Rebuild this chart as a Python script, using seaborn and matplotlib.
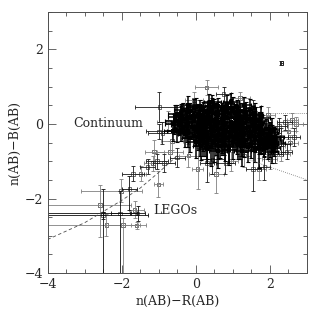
import numpy as np
import pandas as pd
import matplotlib
matplotlib.use("Agg")
import matplotlib.pyplot as plt
from matplotlib.ticker import MultipleLocator
import seaborn as sns

# nuvem densa (contínuo)
core_x = [-0.2, 0.1, 0.35, 0.6, 0.85, 1.1, 1.3,
          -0.35, -0.05, 0.2, 0.45, 0.7, 0.95, 1.2, 1.45,
          -0.5, -0.25, 0.05, 0.3, 0.55, 0.8, 1.05, 1.3, 1.55,
          -0.4, -0.15, 0.1, 0.35, 0.6, 0.85, 1.1, 1.35, 1.6,
          -0.55, -0.3, -0.05, 0.2, 0.45, 0.7, 0.95, 1.2, 1.45, 1.7,
          -0.45, -0.2, 0.05, 0.3, 0.55, 0.8, 1.05, 1.3, 1.55, 1.8,
          -0.35, -0.1, 0.15, 0.4, 0.65, 0.9, 1.15, 1.4, 1.65, 1.9,
          -0.5, -0.25, 0.0, 0.25, 0.5, 0.75, 1.0, 1.25, 1.5, 1.75, 2.0,
          -0.3, -0.05, 0.2, 0.45, 0.7, 0.95, 1.2, 1.45, 1.7, 1.95,
          -0.15, 0.1, 0.35, 0.6, 0.85, 1.1, 1.35, 1.6, 1.85, 2.1,
          0.0, 0.25, 0.5, 0.75, 1.0, 1.25, 1.5, 1.75, 2.0,
          0.15, 0.4, 0.65, 0.9, 1.15, 1.4, 1.7, 1.95,
          0.3, 0.6, 0.9, 1.25, 1.6, 2.05]
core_y = [0.52, 0.47, 0.55, 0.49, 0.53, 0.46, 0.51,
          0.38, 0.43, 0.37, 0.42, 0.39, 0.44, 0.36, 0.41,
          0.28, 0.33, 0.27, 0.31, 0.26, 0.32, 0.29, 0.34, 0.27,
          0.22, 0.17, 0.21, 0.18, 0.23, 0.16, 0.20, 0.17, 0.22,
          0.08, 0.12, 0.07, 0.11, 0.09, 0.13, 0.06, 0.10, 0.12, 0.08,
          -0.02, 0.03, -0.03, 0.01, -0.01, 0.02, -0.04, 0.03, -0.02, 0.01,
          -0.12, -0.08, -0.11, -0.07, -0.13, -0.09, -0.12, -0.08, -0.10, -0.14,
          -0.18, -0.22, -0.17, -0.21, -0.19, -0.23, -0.18, -0.20, -0.22, -0.17, -0.21,
          -0.28, -0.32, -0.27, -0.33, -0.29, -0.31, -0.27, -0.32, -0.30, -0.34,
          -0.38, -0.42, -0.39, -0.43, -0.37, -0.41, -0.44, -0.38, -0.42, -0.40,
          -0.48, -0.52, -0.47, -0.53, -0.49, -0.51, -0.54, -0.48, -0.52,
          -0.58, -0.63, -0.59, -0.62, -0.57, -0.61, -0.64, -0.60,
          -0.68, -0.73, -0.70, -0.72, -0.69, -0.74]
core_xerr = [0.20, 0.25, 0.15, 0.22, 0.18, 0.26, 0.20,
             0.24, 0.18, 0.21, 0.15, 0.27, 0.19, 0.23, 0.17,
             0.26, 0.20, 0.16, 0.24, 0.19, 0.22, 0.15, 0.21, 0.25,
             0.18, 0.23, 0.20, 0.26, 0.17, 0.21, 0.24, 0.19, 0.22,
             0.28, 0.19, 0.22, 0.16, 0.25, 0.20, 0.23, 0.18, 0.21, 0.24,
             0.21, 0.26, 0.18, 0.22, 0.19, 0.25, 0.16, 0.23, 0.20, 0.22,
             0.24, 0.17, 0.21, 0.25, 0.18, 0.22, 0.20, 0.26, 0.19, 0.21,
             0.27, 0.20, 0.23, 0.18, 0.24, 0.16, 0.22, 0.19, 0.25, 0.21, 0.18,
             0.19, 0.24, 0.17, 0.22, 0.20, 0.26, 0.18, 0.21, 0.23, 0.20,
             0.22, 0.18, 0.25, 0.20, 0.17, 0.23, 0.21, 0.19, 0.24, 0.18,
             0.20, 0.24, 0.18, 0.22, 0.26, 0.19, 0.21, 0.23, 0.17,
             0.23, 0.19, 0.25, 0.21, 0.18, 0.22, 0.20, 0.24,
             0.21, 0.25, 0.19, 0.23, 0.20, 0.18]
core_yerr = [0.22, 0.18, 0.26, 0.20, 0.24, 0.17, 0.21,
             0.19, 0.25, 0.21, 0.28, 0.18, 0.23, 0.20, 0.26,
             0.24, 0.19, 0.27, 0.21, 0.30, 0.18, 0.25, 0.22, 0.20,
             0.26, 0.21, 0.29, 0.19, 0.24, 0.32, 0.20, 0.27, 0.23,
             0.21, 0.30, 0.24, 0.35, 0.20, 0.27, 0.33, 0.22, 0.28, 0.25,
             0.28, 0.22, 0.34, 0.25, 0.38, 0.21, 0.30, 0.26, 0.32, 0.24,
             0.25, 0.33, 0.27, 0.40, 0.24, 0.36, 0.29, 0.31, 0.26, 0.28,
             0.30, 0.26, 0.42, 0.29, 0.35, 0.45, 0.27, 0.38, 0.31, 0.29, 0.26,
             0.33, 0.28, 0.46, 0.31, 0.50, 0.29, 0.36, 0.30, 0.34, 0.27,
             0.36, 0.44, 0.30, 0.52, 0.33, 0.40, 0.31, 0.37, 0.29, 0.32,
             0.42, 0.35, 0.55, 0.30, 0.45, 0.34, 0.38, 0.31, 0.36,
             0.40, 0.50, 0.33, 0.47, 0.36, 0.42, 0.55, 0.34,
             0.38, 0.45, 0.35, 0.40, 0.33, 0.30]

# segunda camada da nuvem, intercalada (inclui a cauda à direita)
core2_x = [0.0, 0.5, 1.0,
           -0.15, 0.35, 0.85, 1.35,
           -0.4, 0.1, 0.6, 1.1, 1.6,
           -0.25, 0.25, 0.75, 1.25, 1.75,
           -0.4, 0.1, 0.6, 1.1, 1.6,
           -0.25, 0.25, 0.75, 1.25, 1.75,
           -0.4, 0.1, 0.6, 1.1, 1.6, 2.05,
           -0.2, 0.3, 0.8, 1.3, 1.8,
           0.05, 0.55, 1.05, 1.55, 2.05,
           0.2, 0.7, 1.2, 1.7, 2.15,
           0.3, 0.8, 1.3, 1.85,
           1.9, 2.05, 2.15, 1.85, 2.0, 1.75, 2.1, 2.2,
           -0.6, -0.62, -0.55, 0.45, 0.95]
core2_y = [0.45, 0.48, 0.44,
           0.35, 0.33, 0.36, 0.32,
           0.25, 0.24, 0.26, 0.23, 0.25,
           0.15, 0.14, 0.16, 0.13, 0.15,
           0.05, 0.04, 0.06, 0.03, 0.05,
           -0.05, -0.06, -0.04, -0.07, -0.05,
           -0.15, -0.14, -0.16, -0.13, -0.15, -0.17,
           -0.25, -0.26, -0.24, -0.27, -0.25,
           -0.35, -0.34, -0.36, -0.33, -0.35,
           -0.45, -0.46, -0.44, -0.47, -0.45,
           -0.55, -0.56, -0.54, -0.57,
           -0.45, -0.55, -0.35, -0.65, -0.25, -0.55, -0.65, -0.5,
           0.0, -0.2, 0.2, 0.58, 0.6]
core2_xerr = [0.22, 0.26, 0.20,
              0.25, 0.19, 0.23, 0.27,
              0.21, 0.24, 0.18, 0.26, 0.22,
              0.23, 0.20, 0.25, 0.19, 0.24,
              0.26, 0.21, 0.23, 0.18, 0.25,
              0.20, 0.24, 0.22, 0.26, 0.19,
              0.23, 0.18, 0.25, 0.21, 0.24, 0.20,
              0.22, 0.26, 0.19, 0.23, 0.21,
              0.25, 0.20, 0.24, 0.18, 0.22,
              0.21, 0.25, 0.19, 0.23, 0.20,
              0.24, 0.20, 0.22, 0.19,
              0.20, 0.18, 0.22, 0.19, 0.21, 0.23, 0.18, 0.20,
              0.22, 0.25, 0.20, 0.24, 0.21]
core2_yerr = [0.25, 0.20, 0.28,
              0.22, 0.30, 0.24, 0.27,
              0.28, 0.23, 0.33, 0.26, 0.30,
              0.31, 0.25, 0.36, 0.28, 0.33,
              0.27, 0.35, 0.30, 0.38, 0.29,
              0.34, 0.28, 0.40, 0.31, 0.36,
              0.30, 0.42, 0.33, 0.37, 0.29, 0.32,
              0.38, 0.31, 0.45, 0.34, 0.30,
              0.35, 0.48, 0.32, 0.40, 0.33,
              0.42, 0.36, 0.50, 0.34, 0.31,
              0.38, 0.44, 0.35, 0.32,
              0.22, 0.20, 0.24, 0.21, 0.23, 0.25, 0.20, 0.22,
              0.28, 0.25, 0.30, 0.20, 0.22]

# pontos esparsos em torno da nuvem
out_x = [0.29, 0.75, 1.2, 1.55, -0.05, -0.98, -0.75, -0.9, -0.65, -1.0,
         -0.2, -0.5, -0.7, -0.85, -1.12, -1.05, 0.05, 0.3, 0.55, 0.8,
         0.95, 0.45, 1.3, 1.55, 1.7, 1.85, 2.0, 2.15, 2.3, 2.45,
         2.55, 2.3, 2.5, 2.65, 2.7, 2.4, 2.6, 2.25, 2.2, 2.35,
         1.95, 2.31, -1.01, -1.7, -1.49, -1.3, -1.15]
out_y = [0.98, 0.8, 0.7, 0.45, 0.65, 0.45, 0.05, -0.25, -0.45, -0.2,
         -0.85, -0.9, -0.75, -1.05, -0.74, -1.0, -1.2, -1.05, -1.35, -1.05,
         -1.0, -0.95, -0.85, -1.2, -1.2, -1.15, -0.95, -0.8, -0.8, -0.75,
         -0.5, -0.35, -0.2, -0.35, 0.0, 0.05, 0.1, -0.05, -0.6, -0.55,
         0.25, 1.63, -1.62, -1.34, -1.34, -1.15, -1.05]
out_xerr = [0.3, 0.2, 0.25, 0.2, 0.25, 0.65, 0.3, 0.4, 0.3, 0.35,
            0.25, 0.2, 0.35, 0.3, 0.25, 0.3, 0.15, 0.2, 0.2, 0.25,
            0.2, 0.3, 0.2, 0.2, 0.2, 0.15, 0.2, 0.2, 0.25, 0.15,
            0.2, 0.2, 0.2, 0.15, 0.2, 0.2, 0.15, 0.2, 0.2, 0.2,
            0.2, 0.05, 0.12, 0.3, 0.15, 0.2, 0.25]
out_yerr = [0.2, 0.2, 0.15, 0.2, 0.2, 0.4, 0.3, 0.3, 0.25, 0.2,
            0.3, 0.25, 0.3, 0.25, 0.3, 0.2, 0.55, 0.5, 0.5, 0.3,
            0.25, 0.4, 0.3, 0.6, 0.3, 0.35, 0.25, 0.25, 0.2, 0.2,
            0.2, 0.25, 0.2, 0.25, 0.2, 0.2, 0.2, 0.2, 0.25, 0.2,
            0.2, 0.06, 0.35, 0.2, 0.2, 0.2, 0.2]

# LEGOs (erros assimétricos)
lego_x = [-2.59, -2.5, -2.41, -2.5, -1.97, -2.05, -2.01, -1.79, -1.65, -1.57, -1.6]
lego_y = [-2.18, -2.4, -2.71, -2.45, -2.71, -2.4, -1.79, -1.75, -2.31, -2.4, -2.72]
lego_xlo = [1.5, 1.6, 1.7, 1.6, 0.4, 0.25, 1.08, 0.2, 0.15, 0.2, 0.15]
lego_xhi = [0.85, 0.9, 0.9, 1.2, 0.4, 0.3, 0.57, 0.2, 0.25, 0.2, 0.26]
lego_ylo = [0.85, 1.7, 0.3, 0.1, 1.4, 1.7, 0.3, 0.55, 0.2, 0.2, 0.1]
lego_yhi = [0.55, 0.65, 0.3, 0.1, 0.2, 0.6, 0.3, 0.35, 0.25, 0.2, 0.1]

# trajetórias de modelo
lego_track_x = [-4.0, -3.0, -2.0, -1.5, -1.0, -0.5]
lego_track_y = [-3.1, -2.65, -2.05, -1.72, -1.3, -0.85]
cont_track_x = [1.4, 3.0]
cont_track_y = [-0.95, -1.5]
flat_track_x = [1.95, 3.0]
flat_track_y = [0.3, 0.3]

sns.set_style("ticks")
plt.rcParams["font.family"] = ["DejaVu Serif"]

fig = plt.figure(figsize=(3.11, 3.11), dpi=100)
ax = fig.add_axes([0.153, 0.122, 0.834, 0.839])

eb = dict(fmt="none", capsize=1.6, elinewidth=0.6, capthick=0.6)
ax.errorbar(out_x[::2], out_y[::2], xerr=out_xerr[::2], yerr=out_yerr[::2], ecolor="0.5", **eb)
ax.errorbar(out_x[1::2], out_y[1::2], xerr=out_xerr[1::2], yerr=out_yerr[1::2], ecolor="0.1", **eb)
lx = np.array(lego_x)
ly = np.array(lego_y)
ax.errorbar(lx[::2], ly[::2], xerr=[lego_xlo[::2], lego_xhi[::2]],
            yerr=[lego_ylo[::2], lego_yhi[::2]], ecolor="0.5", **eb)
ax.errorbar(lx[1::2], ly[1::2], xerr=[lego_xlo[1::2], lego_xhi[1::2]],
            yerr=[lego_ylo[1::2], lego_yhi[1::2]], ecolor="0.05", **eb)

ebc = dict(fmt="none", capsize=1.6, elinewidth=1.1, capthick=0.8, ecolor="0.0")
ax.errorbar(core_x, core_y, xerr=core_xerr, yerr=core_yerr, **ebc)
ax.errorbar(core2_x, core2_y, xerr=core2_xerr, yerr=core2_yerr, **ebc)

pts = pd.DataFrame({"x": out_x + lego_x, "y": out_y + lego_y})
sns.scatterplot(data=pts, x="x", y="y", marker="s", s=7, facecolor="none",
                edgecolor="0.35", linewidth=0.6, ax=ax)
core_pts = pd.DataFrame({"x": core_x + core2_x, "y": core_y + core2_y})
sns.scatterplot(data=core_pts, x="x", y="y", marker="s", s=12, color="0.0",
                linewidth=0, ax=ax)

sns.lineplot(x=lego_track_x, y=lego_track_y, sort=False, color="0.3", lw=0.6,
             linestyle=(0, (4, 3)), ax=ax)
sns.lineplot(x=cont_track_x, y=cont_track_y, sort=False, color="0.45", lw=0.6,
             linestyle=(0, (1, 1.5)), ax=ax)
sns.lineplot(x=flat_track_x, y=flat_track_y, sort=False, color="0.45", lw=0.6,
             linestyle=(0, (1, 1.5)), ax=ax)

ax.text(-3.32, 0.0, "Continuum", fontsize=9, va="center", ha="left")
ax.text(-1.16, -2.33, "LEGOs", fontsize=9, va="center", ha="left")

ax.set_xlim(-4, 3)
ax.set_ylim(-4, 3)
ax.xaxis.set_major_locator(MultipleLocator(2))
ax.yaxis.set_major_locator(MultipleLocator(2))
ax.xaxis.set_minor_locator(MultipleLocator(0.5))
ax.yaxis.set_minor_locator(MultipleLocator(0.5))
ax.tick_params(which="both", direction="in", top=True, right=True, width=0.6, color="0.3", labelsize=9)
ax.tick_params(which="major", length=6)
ax.tick_params(which="minor", length=3)
for s in ax.spines.values():
    s.set_linewidth(0.7)
    s.set_color("0.3")
ax.set_xlabel("n(AB)−R(AB)", fontsize=9, labelpad=3)
ax.set_ylabel("n(AB)−B(AB)", fontsize=9, labelpad=2)

fig.savefig("out.png", dpi=100)
